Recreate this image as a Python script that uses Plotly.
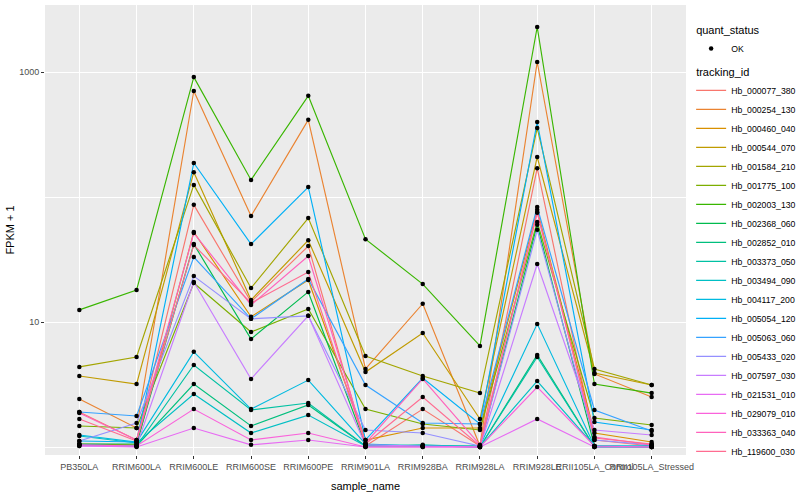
import plotly.graph_objects as go

samples = ["PB350LA", "RRIM600LA", "RRIM600LE", "RRIM600SE", "RRIM600PE", "RRIM901LA",
           "RRIM928BA", "RRIM928LA", "RRIM928LE", "RRII105LA_Control", "RRII105LA_Stressed"]

tracking_ids = ["Hb_000077_380", "Hb_000254_130", "Hb_000460_040", "Hb_000544_070", "Hb_001584_210",
                "Hb_001775_100", "Hb_002003_130", "Hb_002368_060", "Hb_002852_010", "Hb_003373_050",
                "Hb_003494_090", "Hb_004117_200", "Hb_005054_120", "Hb_005063_060", "Hb_005433_020",
                "Hb_007597_030", "Hb_021531_010", "Hb_029079_010", "Hb_033363_040", "Hb_119600_030"]

# FPKM + 1 values, one list per tracking_id (order of samples above)
Hb_000077_380 = [1.905, 1.138, 86.5, 14.5, 40.5, 1.019, 2.01, 1.019, 170, 1.138, 1.019]
Hb_000254_130 = [2.42, 1.419, 705, 70.5, 414, 4.21, 14.0, 1.019, 1202, 3.84, 2.51]
Hb_000460_040 = [1.057, 1.04, 52.5, 11.0, 21.7, 1.138, 1.419, 1.419, 79.0, 1.294, 1.096]
Hb_000544_070 = [3.70, 3.19, 158, 15.0, 45.1, 3.98, 8.17, 1.675, 209, 3.91, 3.13]
Hb_001584_210 = [4.37, 5.25, 125, 18.7, 67.8, 5.35, 3.70, 2.70, 356, 4.21, 3.13]
Hb_001775_100 = [1.473, 1.419, 20.5, 8.32, 12.7, 2.01, 1.528, 1.368, 63.1, 1.706, 1.50]
Hb_002003_130 = [12.5, 18.0, 910, 137, 645, 46.0, 20.1, 6.43, 2291, 3.19, 2.70]
Hb_002368_060 = [1.057, 1.057, 42.0, 7.31, 17.4, 1.04, 1.019, 1.019, 60.0, 1.019, 1.0]
Hb_002852_010 = [1.04, 1.019, 3.19, 1.473, 2.17, 1.019, 1.019, 1.0, 5.45, 1.0, 1.0]
Hb_003373_050 = [1.04, 1.019, 4.53, 1.977, 2.25, 1.019, 1.04, 1.0, 5.25, 1.0, 1.0]
Hb_003494_090 = [1.225, 1.076, 2.65, 1.294, 1.80, 1.019, 1.019, 1.0, 3.37, 1.019, 1.019]
Hb_004117_200 = [1.247, 1.096, 5.77, 2.01, 3.43, 1.057, 1.019, 1.019, 9.66, 1.019, 1.019]
Hb_005054_120 = [1.117, 1.096, 187, 42.0, 120, 1.138, 3.56, 1.528, 398, 1.585, 1.368]
Hb_005063_060 = [1.905, 1.77, 33.1, 10.6, 22.1, 3.13, 1.556, 1.528, 83.2, 1.977, 1.343]
Hb_005433_020 = [1.117, 1.556, 23.3, 10.6, 11.2, 1.368, 1.294, 1.019, 54.6, 1.138, 1.04]
Hb_007597_030 = [1.019, 1.019, 20.9, 3.50, 11.2, 1.04, 1.019, 1.0, 29.1, 1.368, 1.247]
Hb_021531_010 = [1.019, 1.0, 1.419, 1.04, 1.138, 1.0, 1.0, 1.0, 1.675, 1.0, 1.0]
Hb_029079_010 = [1.04, 1.019, 2.01, 1.138, 1.294, 1.0, 1.0, 1.0, 3.02, 1.019, 1.0]
Hb_033363_040 = [1.87, 1.138, 51.5, 13.7, 33.7, 1.076, 3.50, 1.04, 74.7, 1.20, 1.04]
Hb_119600_030 = [1.675, 1.117, 41.3, 14.2, 25.1, 1.057, 2.51, 1.019, 75.9, 1.18, 1.057]

series = [Hb_000077_380, Hb_000254_130, Hb_000460_040, Hb_000544_070, Hb_001584_210,
          Hb_001775_100, Hb_002003_130, Hb_002368_060, Hb_002852_010, Hb_003373_050,
          Hb_003494_090, Hb_004117_200, Hb_005054_120, Hb_005063_060, Hb_005433_020,
          Hb_007597_030, Hb_021531_010, Hb_029079_010, Hb_033363_040, Hb_119600_030]

colors = ["#F8766D", "#EA8331", "#D89000", "#C09B00", "#A3A500", "#7CAE00", "#39B600", "#00BB4E",
          "#00BF7D", "#00C1A3", "#00BFC4", "#00BAE0", "#00B0F6", "#35A2FF", "#9590FF", "#C77CFF",
          "#E76BF3", "#FA62DB", "#FF62BC", "#FF6C91"]

FONT = "Liberation Sans, Arial, sans-serif"

fig = go.Figure()

for i, (tid, vals, col) in enumerate(zip(tracking_ids, series, colors)):
    fig.add_trace(go.Scatter(
        x=samples, y=vals, mode="lines", name=tid,
        line=dict(color=col, width=1.15),
        legendgroup="tid", legendrank=2 + i,
        legendgrouptitle=dict(text="tracking_id", font=dict(size=11, color="black")),
        hoverinfo="skip"))

all_x = [s for vals in series for s in samples]
all_y = [v for vals in series for v in vals]
fig.add_trace(go.Scatter(
    x=all_x, y=all_y, mode="markers", name="OK",
    marker=dict(color="black", size=4.5),
    legendgroup="qs", legendrank=1,
    legendgrouptitle=dict(text="quant_status", font=dict(size=11, color="black")),
    hoverinfo="skip"))

fig.update_layout(
    width=800, height=500,
    margin=dict(l=45, r=114, t=5, b=45, autoexpand=False),
    paper_bgcolor="white", plot_bgcolor="#EBEBEB",
    font=dict(family=FONT, size=9, color="#4D4D4D"),
    legend=dict(x=1.008, xanchor="left", y=0.978, yanchor="top",
                font=dict(size=8.7, color="black"), tracegroupgap=4,
                traceorder="grouped", itemwidth=30, bgcolor="rgba(0,0,0,0)"),
    xaxis=dict(type="category", categoryorder="array", categoryarray=samples,
               range=[-0.6, len(samples) - 0.4], tickangle=0,
               showgrid=True, gridcolor="white", gridwidth=1.1,
               ticks="outside", ticklen=3, tickcolor="#333333", tickwidth=1,
               tickfont=dict(size=9, color="#4D4D4D"),
               title=dict(text="sample_name", font=dict(size=11, color="black"), standoff=11),
               zeroline=False, showline=False),
    yaxis=dict(type="log", range=[-0.064, 3.536],
               tickvals=[10, 1000], ticktext=["10", "1000"],
               showgrid=True, gridcolor="white", gridwidth=1.1,
               minor=dict(tickvals=[1, 100, 10000], showgrid=True, gridcolor="white", gridwidth=0.55, ticks=""),
               ticks="outside", ticklen=3, tickcolor="#333333", tickwidth=1,
               tickfont=dict(size=9, color="#4D4D4D"),
               title=dict(text="FPKM + 1", font=dict(size=11, color="black"), standoff=2),
               zeroline=False, showline=False),
)

fig.write_html("out.html", config={"displayModeBar": False},
               post_script="document.body.style.margin='0';document.body.style.overflow='hidden';")
